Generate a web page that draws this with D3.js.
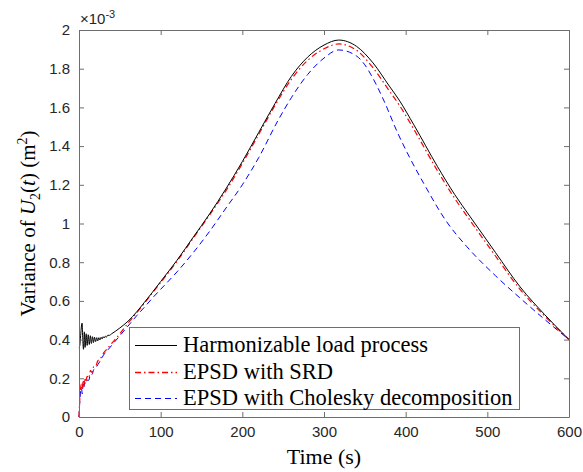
<!DOCTYPE html>
<html><head><meta charset="utf-8">
<script src="https://cdn.jsdelivr.net/npm/d3@7"></script>
<style>body{margin:0;background:#fff}</style>
</head><body>
<svg id="chart" width="583" height="472"></svg>
<script>
const xTicks = [0,100,200,300,400,500,600];
const yTicks = [0,0.2,0.4,0.6,0.8,1,1.2,1.4,1.6,1.8,2];
const yTickLabels = ["0","0.2","0.4","0.6","0.8","1","1.2","1.4","1.6","1.8","2"];
const seriesNames = ["Harmonizable load process","EPSD with SRD","EPSD with Cholesky decomposition"];

// values in units of 1e-3 m^2
const tBlack = [0,1,2,3,3.8,4.6,5.5,6.5,7.5,8.8,10,11.3,12.6,13.9,15.2,16.5,17.8,19,20.4,21.7,23,24.3,25.6,27,28.3,29.6,31,32.3,33.6,35,37,40,50,60,71,80,90,100,120,140,160,180,200,220,240,260,280,300,318,340,360,380,392,410,439,460,479,510,540,570,600];
const vBlack = [0.36,0.37,0.42,0.47,0.485,0.40,0.35,0.44,0.36,0.43,0.37,0.425,0.375,0.42,0.38,0.415,0.385,0.412,0.39,0.41,0.393,0.41,0.398,0.412,0.403,0.415,0.408,0.418,0.413,0.422,0.422,0.43,0.46,0.495,0.545,0.592,0.645,0.70,0.81,0.93,1.05,1.18,1.32,1.47,1.62,1.76,1.86,1.922,1.948,1.915,1.83,1.71,1.638,1.51,1.294,1.15,1.035,0.85,0.673,0.53,0.40];

const tRed = [0,0.5,1,2,3,4,5,6,7,8,10,12,14,16,18,20,23,26,30,35,40,50,60,71,80,90,100,120,140,160,180,200,220,240,260,280,300,318,340,360,380,392,410,439,460,479,510,540,570,600];
const vRed = [0,0.05,0.1,0.15,0.17,0.14,0.19,0.16,0.2,0.18,0.21,0.2,0.24,0.23,0.26,0.26,0.29,0.3,0.33,0.355,0.38,0.43,0.485,0.54,0.588,0.642,0.695,0.805,0.925,1.045,1.17,1.31,1.46,1.61,1.745,1.843,1.903,1.928,1.895,1.805,1.685,1.613,1.487,1.272,1.13,1.015,0.832,0.66,0.523,0.40];

const tBlue = [0,1,2,3,4,5,6,7,8,10,12,14,16,18,20,23,26,30,35,40,50,60,71,80,90,100,120,140,160,180,200,220,244,260,280,300,318,340,350,360,373,390,405,422,450,475,510,540,570,600];
const vBlue = [0,0.08,0.13,0.15,0.12,0.17,0.15,0.18,0.17,0.19,0.19,0.22,0.22,0.245,0.25,0.27,0.29,0.32,0.345,0.37,0.42,0.47,0.525,0.567,0.615,0.66,0.75,0.85,0.96,1.08,1.20,1.34,1.535,1.65,1.77,1.855,1.897,1.865,1.82,1.75,1.638,1.47,1.34,1.208,1.01,0.88,0.73,0.615,0.505,0.40];

const svg = d3.select("#chart");
const L=79, R=569, T=30, B=417;
const x = d3.scaleLinear().domain([0,600]).range([L,R]);
const y = d3.scaleLinear().domain([0,2]).range([B,T]);
const axisCol = "#6e6e6e", textCol = "#262626";

const line = d3.line().x(d=>x(d[0])).y(d=>y(d[1])).curve(d3.curveMonotoneX);
const mk = (t,v)=>t.map((ti,i)=>[ti,v[i]]);
const series = [
  {data: mk(tBlack,vBlack), color:"#000000", dash:null, w:1},
  {data: mk(tRed,vRed), color:"#ff0000", dash:"6,3,1.5,3", w:1.2},
  {data: mk(tBlue,vBlue), color:"#0000ff", dash:"6,4", w:1}
];
const g = svg.append("g");
[2,1,0].forEach(i=>{
  const s=series[i];
  g.append("path").attr("d",line(s.data)).attr("fill","none")
   .attr("stroke",s.color).attr("stroke-width",s.w)
   .attr("stroke-dasharray",s.dash);
});

const xb = d3.axisBottom(x).tickValues(xTicks).tickSizeInner(-5).tickSizeOuter(0).tickPadding(9).tickFormat(d3.format("d"));
const yl = d3.axisLeft(y).tickValues(yTicks).tickSizeInner(-5).tickSizeOuter(0).tickPadding(9).tickFormat((d,i)=>yTickLabels[i]);
const xt = d3.axisTop(x).tickValues(xTicks).tickSizeInner(-5).tickSizeOuter(0).tickFormat("");
const yr = d3.axisRight(y).tickValues(yTicks).tickSizeInner(-5).tickSizeOuter(0).tickFormat("");
function style(sel){
  sel.selectAll("path").attr("stroke",axisCol);
  sel.selectAll("line").attr("stroke",axisCol);
  sel.selectAll("text").attr("fill",textCol).style("font-family","Liberation Sans, Arial, sans-serif").style("font-size","15px");
}
svg.append("g").attr("transform",`translate(0,${B})`).call(xb).call(style);
svg.append("g").attr("transform",`translate(${L},0)`).call(yl).call(style);
svg.append("g").attr("transform",`translate(0,${T})`).call(xt).call(style);
svg.append("g").attr("transform",`translate(${R},0)`).call(yr).call(style);

const ex = svg.append("text").attr("x",80).attr("y",24).attr("fill",textCol)
  .style("font-family","Liberation Sans, Arial, sans-serif").style("font-size","15px");
ex.append("tspan").text("\u00d710");
ex.append("tspan").attr("dy",-6).style("font-size","11px").text("-3");

const serif = "Liberation Serif, Times New Roman, serif";
svg.append("text").attr("x",(L+R)/2).attr("y",464).attr("text-anchor","middle")
  .style("font-family",serif).style("font-size","22px").attr("fill","#000").text("Time (s)");
const yt = svg.append("text").attr("transform",`translate(35,${(T+B)/2}) rotate(-90)`)
  .attr("text-anchor","middle").style("font-family",serif).style("font-size","21px").attr("fill","#000");
yt.append("tspan").text("Variance of ");
yt.append("tspan").style("font-style","italic").text("U");
yt.append("tspan").attr("dy",5).style("font-size","14px").text("2");
yt.append("tspan").attr("dy",-5).text("(");
yt.append("tspan").style("font-style","italic").text("t");
yt.append("tspan").text(") (m");
yt.append("tspan").attr("dy",-8).style("font-size","14px").text("2");
yt.append("tspan").attr("dy",8).text(")");

const lg = svg.append("g");
lg.append("rect").attr("x",129.5).attr("y",327.5).attr("width",390).attr("height",82)
  .attr("fill","#fff").attr("stroke",axisCol).attr("stroke-width",1);
seriesNames.forEach((n,i)=>{
  const yy = 345 + i*26.5;
  const ly = Math.round(yy) + 0.5;
  lg.append("line").attr("x1",135).attr("x2",177).attr("y1",ly).attr("y2",ly)
    .attr("stroke",series[i].color).attr("stroke-width",i===1?1.5:1).attr("stroke-dasharray",series[i].dash);
  lg.append("text").attr("x",183).attr("y",yy+7).style("font-family",serif).style("font-size","22.5px")
    .attr("fill","#000").text(n);
});
</script>
</body></html>
